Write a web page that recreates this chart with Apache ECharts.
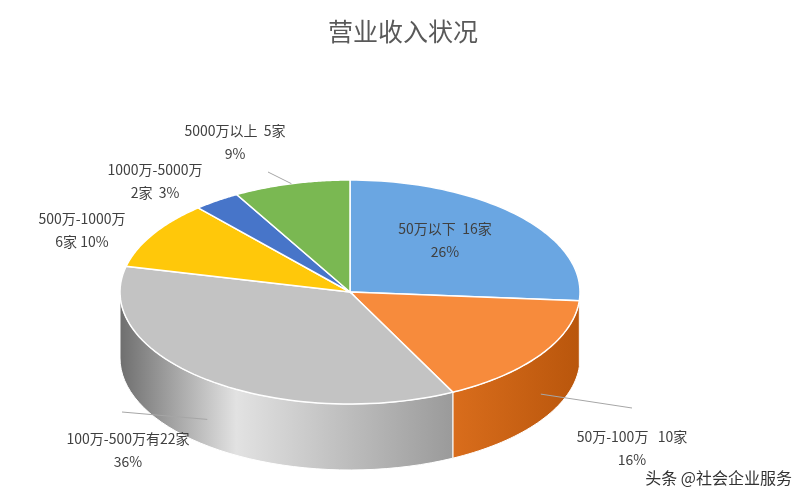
<!DOCTYPE html>
<html>
<head>
<meta charset="UTF-8">
<title>营业收入状况</title>
<script src="https://cdn.jsdelivr.net/npm/echarts@6/dist/echarts.min.js"></script>
<style>html,body{margin:0;padding:0;background:#fff}#main{width:806px;height:500px}</style>
</head>
<body>
<div id="main"></div>
<script>
// 数据
var names = ['50万以下', '50万-100万', '100万-500万', '500万-1000万', '1000万-5000万', '5000万以上'];
var counts = [16, 10, 22, 6, 2, 5];
var percents = [26, 16, 36, 10, 3, 9];
var labelTexts = ['50万以下  16家\n26%', '50万-100万   10家\n16%', '100万-500万有22家\n36%',
                  '500万-1000万\n6家 10%', '1000万-5000万\n2家  3%', '5000万以上  5家\n9%'];

// 样式
var topColors = ['#6aa6e2', '#f78b3c', '#c3c3c3', '#ffc80a', '#4775c9', '#7ab852'];
var sideColors = [['#4f86bd', '#3a6a9c'], ['#d96d1c', '#b9560c'], ['#d6d6d6', '#6e6e6e'],
                  ['#d9a400', '#b68800'], ['#2f57a0', '#23437e'], ['#5d9a3a', '#497d2b']];
var cx = 350, cy = 292, rx = 230, ry = 112, depth = 66;
// 标签位置 [x, y, align]，引导线终点
var labelPos = [[445, 240, 'center'], [632, 448, 'center'], [128, 450, 'center'],
                [82, 230, 'center'], [155, 181, 'center'], [235, 142, 'center']];
var leaderEnd = [null, [632, 408], [122, 412], null, null, [268, 172]];

var total = counts.reduce(function (a, b) { return a + b; }, 0);
var seriesData = [], acc = 0;
counts.forEach(function (v, i) { seriesData.push([acc, acc + v, i]); acc += v; });

function pt(t, dy) { return [cx + rx * Math.cos(t), cy + ry * Math.sin(t) + (dy || 0)]; }

function renderItem(params, api) {
    var i = api.value(2);
    var a0 = api.value(0) / total * Math.PI * 2 - Math.PI / 2;
    var a1 = api.value(1) / total * Math.PI * 2 - Math.PI / 2;
    var children = [];
    // 侧面（只画前半部分 0..π）
    var s0 = Math.max(a0, 0), s1 = Math.min(a1, Math.PI);
    if (s1 > s0) {
        var side = [], n = 40, k;
        for (k = 0; k <= n; k++) side.push(pt(s0 + (s1 - s0) * k / n));
        for (k = n; k >= 0; k--) side.push(pt(s0 + (s1 - s0) * k / n, depth));
        var grad = i === 2
            ? new echarts.graphic.LinearGradient(0, 0, 1, 0, [{offset: 0, color: '#6e6e6e'}, {offset: 0.35, color: '#e2e2e2'}, {offset: 1, color: '#9a9a9a'}])
            : new echarts.graphic.LinearGradient(0, 0, 1, 0, [{offset: 0, color: sideColors[i][0]}, {offset: 1, color: sideColors[i][1]}]);
        children.push({type: 'polygon', z2: 1, shape: {points: side}, style: {fill: grad, stroke: '#fff', lineWidth: 1}});
    }
    // 顶面
    var top = [[cx, cy]], m = 60;
    for (var j = 0; j <= m; j++) top.push(pt(a0 + (a1 - a0) * j / m));
    children.push({type: 'polygon', z2: 10, shape: {points: top}, style: {fill: topColors[i], stroke: '#fff', lineWidth: 1.5}});
    // 引导线
    var mid = (a0 + a1) / 2;
    if (leaderEnd[i]) {
        var p = pt(mid, mid > 0 && mid < Math.PI ? depth * 0.6 : 0);
        children.push({type: 'line', z2: 20, shape: {x1: p[0], y1: p[1], x2: leaderEnd[i][0], y2: leaderEnd[i][1]}, style: {stroke: '#a6a6a6', lineWidth: 1}});
    }
    // 标签
    children.push({type: 'text', z2: 30, x: labelPos[i][0], y: labelPos[i][1],
        style: {text: labelTexts[i], align: labelPos[i][2], verticalAlign: 'middle', fill: '#404040',
                font: '14px "Noto Sans CJK SC", sans-serif', lineHeight: 23}});
    return {type: 'group', children: children};
}

var myChart = echarts.init(document.getElementById('main'));
var option = {
    animation: false,
    title: {
        text: '营业收入状况', left: 'center', top: 14,
        textStyle: {fontSize: 25, fontWeight: 'normal', color: '#595959', fontFamily: '"Noto Sans CJK SC", serif'}
    },
    graphic: [{type: 'text', right: 14, bottom: 14, style: {text: '头条 @社会企业服务', fill: '#333', font: '16px "Noto Sans CJK SC", sans-serif'}}],
    series: [{
        type: 'custom',
        coordinateSystem: 'none',
        renderItem: renderItem,
        data: seriesData
    }]
};
myChart.setOption(option);
</script>
</body>
</html>
